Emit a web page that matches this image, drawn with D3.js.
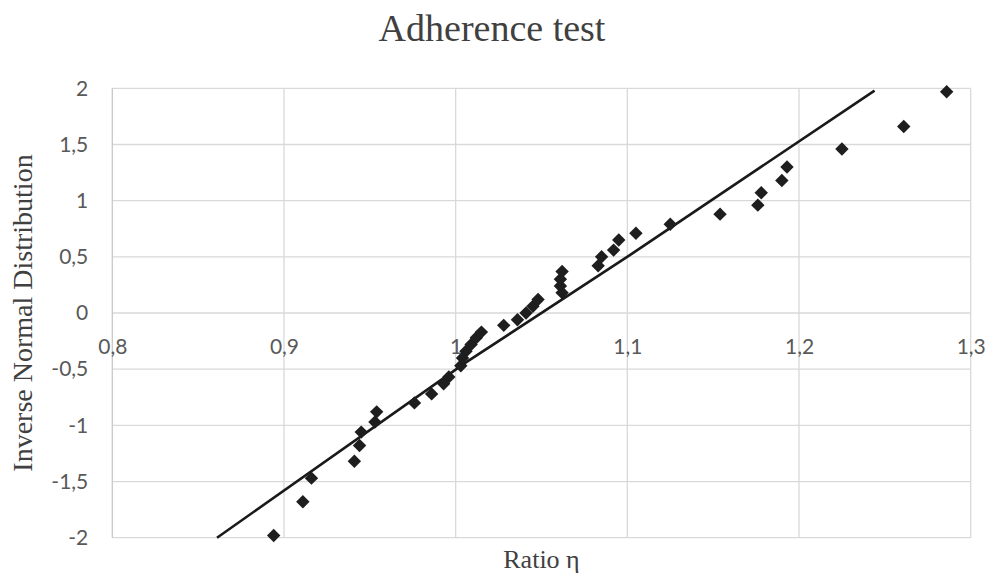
<!DOCTYPE html>
<html>
<head>
<meta charset="utf-8">
<script src="https://cdn.jsdelivr.net/npm/d3@7"></script>
<style>
  body { margin: 0; background: #fff; }
  svg { display: block; }
</style>
</head>
<body>
<script>
const width = 987, height = 574;
const title = 'Adherence test';
const xAxisLabel = 'Ratio η';
const yAxisLabel = 'Inverse Normal Distribution';

// measured points (ratio η vs inverse normal quantile)
const ratio = [0.894, 0.911, 0.916, 0.941, 0.944, 0.945, 0.953, 0.954, 0.976, 0.986,
    0.993, 0.996, 1.003, 1.004, 1.006, 1.009, 1.012, 1.015, 1.028, 1.036,
    1.041, 1.045, 1.048, 1.062, 1.061, 1.061, 1.062, 1.083, 1.085, 1.092,
    1.095, 1.105, 1.125, 1.154, 1.176, 1.178, 1.190, 1.193, 1.225, 1.261, 1.286];
const invNormal = [-1.98, -1.68, -1.47, -1.32, -1.18, -1.06, -0.97, -0.88, -0.80, -0.72,
    -0.63, -0.57, -0.47, -0.40, -0.34, -0.28, -0.22, -0.17, -0.11, -0.06,
    0.00, 0.06, 0.12, 0.18, 0.24, 0.30, 0.37, 0.42, 0.50, 0.56,
    0.65, 0.71, 0.79, 0.88, 0.96, 1.07, 1.18, 1.30, 1.46, 1.66, 1.97];

// reference line
const fitX = [0.861, 1.006, 1.101, 1.244];
const fitY = [-2, -0.44, 0.51, 1.98];

const xTicks = [0.8, 0.9, 1.0, 1.1, 1.2, 1.3];
const yTicks = [-2, -1.5, -1, -0.5, 0, 0.5, 1, 1.5, 2];

const margin = { top: 88.3, right: 16.3, bottom: 36.3, left: 112.3 };
const innerWidth = width - margin.left - margin.right;
const innerHeight = height - margin.top - margin.bottom;

const locale = d3.formatLocale({ decimal: ',', thousands: '.', grouping: [3], currency: ['', ''], minus: '-' });
const fmt = locale.format('.1~f');

const svg = d3.select('body')
    .append('svg')
    .attr('width', width)
    .attr('height', height);

const xScale = d3.scaleLinear().domain([0.8, 1.3]).range([0, innerWidth]);
const yScale = d3.scaleLinear().domain([-2, 2]).range([innerHeight, 0]);

const g = svg.append('g').attr('transform', `translate(${margin.left},${margin.top})`);

// gridlines
g.append('g')
    .selectAll('line')
    .data(yTicks)
    .enter()
    .append('line')
    .attr('x1', 0).attr('x2', innerWidth)
    .attr('y1', d => yScale(d)).attr('y2', d => yScale(d))
    .attr('stroke', '#d9d9d9').attr('stroke-width', 1.3);

g.append('g')
    .selectAll('line')
    .data(xTicks)
    .enter()
    .append('line')
    .attr('y1', 0).attr('y2', innerHeight)
    .attr('x1', d => xScale(d)).attr('x2', d => xScale(d))
    .attr('stroke', d => d === 0.8 ? '#c8c8c8' : '#d9d9d9').attr('stroke-width', 1.3);

// y axis labels
const yAxis = g.append('g')
    .call(d3.axisLeft(yScale).tickValues(yTicks).tickFormat(fmt).tickSize(0).tickPadding(24));
yAxis.select('.domain').remove();
yAxis.selectAll('text')
    .style('font-family', 'Lato, sans-serif')
    .style('font-size', '21px')
    .attr('fill', '#595959');

// x axis labels sit on the zero line
const xAxis = g.append('g')
    .attr('transform', `translate(0,${yScale(0)})`)
    .call(d3.axisBottom(xScale).tickValues(xTicks).tickFormat(fmt).tickSize(0).tickPadding(26));
xAxis.select('.domain').remove();
xAxis.selectAll('text')
    .style('font-family', 'Lato, sans-serif')
    .style('font-size', '21px')
    .attr('fill', '#595959');

// reference line
const line = d3.line()
    .x(d => xScale(d[0]))
    .y(d => yScale(d[1]));

g.append('path')
    .datum(fitX.map((x, i) => [x, fitY[i]]))
    .attr('d', line)
    .attr('fill', 'none')
    .attr('stroke', '#1a1a1a')
    .attr('stroke-width', 2.6);

// points as diamonds
const diamond = d3.symbol().type(d3.symbolSquare).size(90);
g.selectAll('.pt')
    .data(ratio.map((x, i) => ({ x: x, y: invNormal[i] })))
    .enter()
    .append('path')
    .attr('class', 'pt')
    .attr('d', diamond)
    .attr('transform', d => `translate(${xScale(d.x)},${yScale(d.y)}) rotate(45)`)
    .attr('fill', '#1e1e1e');

// headings
svg.append('text')
    .attr('x', 492)
    .attr('y', 41)
    .attr('text-anchor', 'middle')
    .style('font-family', '"Liberation Serif", serif')
    .style('font-size', '38px')
    .attr('fill', '#404040')
    .text(title);

svg.append('text')
    .attr('x', margin.left + innerWidth / 2)
    .attr('y', 568)
    .attr('text-anchor', 'middle')
    .style('font-family', '"Liberation Serif", serif')
    .style('font-size', '26px')
    .attr('fill', '#404040')
    .text(xAxisLabel);

svg.append('text')
    .attr('transform', `translate(32,${margin.top + innerHeight / 2}) rotate(-90)`)
    .attr('text-anchor', 'middle')
    .style('font-family', '"Liberation Serif", serif')
    .style('font-size', '28px')
    .attr('fill', '#404040')
    .text(yAxisLabel);
</script>
</body>
</html>
